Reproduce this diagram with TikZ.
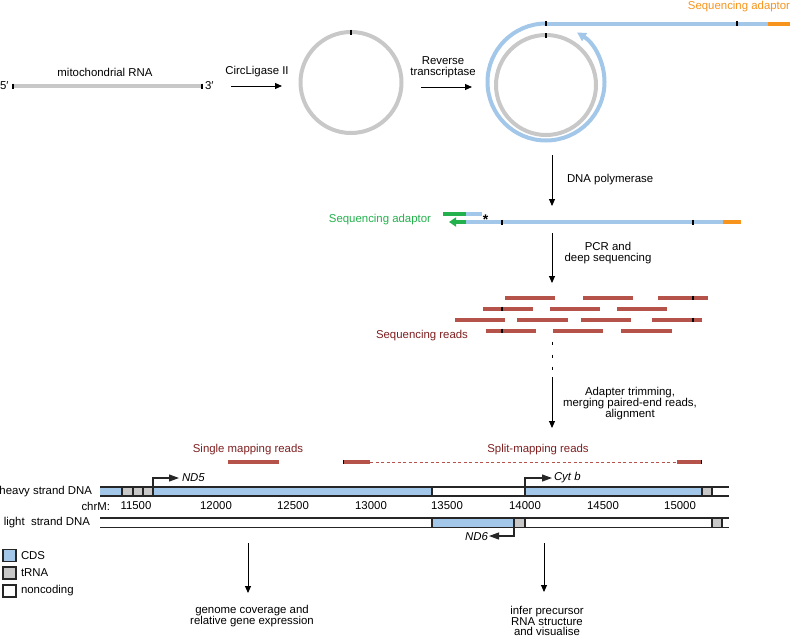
\documentclass[tikz,border=0pt]{standalone}
\usepackage{fontspec}
\setmainfont{Liberation Sans}
\usetikzlibrary{arrows.meta}
\definecolor{rnagray}{HTML}{C8C8C8}
\definecolor{dnablue}{HTML}{A3C7E9}
\definecolor{adorange}{HTML}{F7941D}
\definecolor{adgreen}{HTML}{22B14C}
\definecolor{readred}{HTML}{B5534A}
\definecolor{txtred}{HTML}{7E1F1F}
\begin{document}
\begin{tikzpicture}[x=1pt,y=-1pt,
  every node/.style={inner sep=0pt,outer sep=0pt},
  txt/.style={font=\fontsize{11.4}{11}\selectfont,align=center},
  btxt/.style={font=\fontsize{11.4}{10.2}\selectfont,align=center},
  gtxt/.style={font=\fontsize{11.4}{11}\selectfont\itshape},
  proc/.style={-{Triangle[length=7pt,width=6pt]},line width=0.9pt},
  rna/.style={rnagray,line width=4pt},
  dna/.style={dnablue,line width=4pt},
  orng/.style={adorange,line width=4pt},
  grn/.style={adgreen,line width=4pt},
  rd/.style={readred,line width=4.5pt},
  tick/.style={black,line width=1.1pt},
  gl/.style={black!85,line width=1.1pt},
  garrow/.style={gl,-{Triangle[length=10pt,width=7pt]}},
  legbox/.style={draw=black!85,line width=1.1pt,minimum width=13pt,minimum height=12pt}]
\useasboundingbox (0,0) rectangle (791,637);

% ---------- top row: linear RNA ----------
\coordinate (r5) at (13,86);
\coordinate (r3) at (202,86);
\draw[rna] (r5) -- (r3);
\draw[tick] (13,83.5) -- (13,88.5);
\draw[tick] (202,83.5) -- (202,88.5);
\node[txt,anchor=west] (five) at (0,86) {5′};
\node[txt,anchor=west] (three) at (205,86) {3′};
\node[txt] (mrna) at (105,72) {mitochondrial RNA};

\node[txt] (cl) at (257,72) {CircLigase II};
\coordinate (cla) at (231,86);
\coordinate (clb) at (282,86);
\draw[proc] (cla) -- (clb);

% circle 1
\coordinate (c1) at (351,82.5);
\draw[rna] (c1) circle[radius=50.5];
\draw[tick] (351,29.5) -- (351,34.5);

\node[txt] (rt) at (443,67) {Reverse\\transcriptase};
\coordinate (rta) at (421,87);
\coordinate (rtb) at (472,87);
\draw[proc] (rta) -- (rtb);

% circle 2
\coordinate (c2) at (546,85);
\draw[rna] (c2) circle[radius=50];
\draw[tick] (546,33) -- (546,38);
\coordinate (bt) at (546,23.5);
\coordinate (bo) at (768,23.5);
\coordinate (be) at (790,23.5);
\draw[dna] (bt) -- (bo);
\draw[orng] (bo) -- (be);
\draw[dna,-{Triangle[length=9pt,width=9pt]}] (bt) arc[start angle=-90,end angle=-418,radius=58.5];
\draw[tick] (546,21) -- (546,26);
\draw[tick] (737,21) -- (737,26);
\node[txt,anchor=east,text=adorange] (sa1) at (790,7) {Sequencing adaptor};

% DNA polymerase
\coordinate (dpa) at (552,155);
\coordinate (dpb) at (552,206);
\draw[proc] (dpa) -- (dpb);
\node[txt,anchor=west] (dp) at (567,180) {DNA polymerase};

% middle strand
\coordinate (m0) at (466,222);
\coordinate (m1) at (723,222);
\coordinate (m2) at (741,222);
\coordinate (mg) at (449,222);
\draw[dna] (m0) -- (m1);
\draw[orng] (m1) -- (m2);
\draw[grn,-{Triangle[length=7pt,width=9pt]}] (m0) -- (mg);
\draw[tick] (502,219.5) -- (502,224.5);
\draw[tick] (693,219.5) -- (693,224.5);
\coordinate (u0) at (443,214);
\coordinate (u1) at (466,214);
\coordinate (u2) at (482,214);
\draw[grn] (u0) -- (u1);
\draw[dna] (u1) -- (u2);
\node[anchor=base,font=\fontsize{14}{14}\selectfont\bfseries,text=black] (ast) at (485.5,224) {*};
\node[txt,anchor=east,text=adgreen] (sa2) at (431,220) {Sequencing adaptor};

% PCR
\coordinate (pca) at (552,233);
\coordinate (pcb) at (552,283);
\draw[proc] (pca) -- (pcb);
\node[txt] (pcr) at (608,253) {PCR and\\deep sequencing};

% reads
\foreach \a/\b/\y in {505/555/298,583/633/298,658/708/298,
  483/533/309,550/600/309,617/667/309,
  455/505/320,517/568/320,581/631/320,652/702/320,
  486/536/331,553/603/331,621/672/331}
  \draw[rd] (\a,\y) -- (\b,\y);
\foreach \x/\y in {693/298,502/309,693/320,502/331}
  \draw[tick] (\x,\y-2.3) -- (\x,\y+2.3);
\node[txt,text=txtred] (sr) at (422,336) {Sequencing reads};

% dots
\foreach \y in {343,356,368}
  \draw[black,line width=0.9pt] (552,\y-1.5) -- (552,\y+1.5);

% alignment
\coordinate (ala) at (552,377);
\coordinate (alb) at (552,428);
\draw[proc] (ala) -- (alb);
\node[txt] (al) at (630,404) {Adapter trimming,\\merging paired-end reads,\\alignment};

% mapping reads
\node[txt,text=txtred] (smr) at (248,450) {Single mapping reads};
\node[txt,text=txtred] (spr) at (538,450) {Split-mapping reads};
\draw[rd] (228,462) -- (279,462);
\coordinate (s1) at (370,462);
\coordinate (s2) at (677,462);
\draw[rd] (343,462) -- (s1);
\draw[readred,line width=1pt,dash pattern=on 3pt off 2.5pt] (s1) -- (s2);
\draw[rd] (s2) -- (702,462);
\draw[tick] (343.5,459.7) -- (343.5,464.3);
\draw[tick] (701.5,459.7) -- (701.5,464.3);

% heavy strand
\fill[dnablue] (100,487) rectangle (122,496);
\fill[rnagray] (122,487) rectangle (153,496);
\fill[dnablue] (153,487) rectangle (432,496);
\fill[dnablue] (525,487) rectangle (702,496);
\fill[rnagray] (702,487) rectangle (712,496);
\draw[gl] (100,487) -- (729,487);
\draw[gl] (100,496) -- (729,496);
\foreach \x in {122,133,143,153,432,525,702,712}
  \draw[gl] (\x,487) -- (\x,496);

% light strand
\fill[dnablue] (432,518) rectangle (514,527.5);
\fill[rnagray] (514,518) rectangle (525,527.5);
\fill[rnagray] (712,518) rectangle (722,527.5);
\draw[gl] (100,518) -- (729,518);
\draw[gl] (100,527.5) -- (729,527.5);
\foreach \x in {432,514,525,712,722}
  \draw[gl] (\x,518) -- (\x,527.5);

% gene arrows
\coordinate (nd5s) at (153,487);
\coordinate (nd5e) at (179,478);
\draw[garrow] (nd5s) |- (nd5e);
\node[gtxt,anchor=west] (nd5) at (182,478) {ND5};
\coordinate (cyts) at (525,487);
\coordinate (cyte) at (552,478);
\draw[garrow] (cyts) |- (cyte);
\node[gtxt,anchor=west] (cyt) at (554,478) {Cyt b};
\coordinate (nd6s) at (514,527.5);
\coordinate (nd6e) at (489,536);
\draw[garrow] (nd6s) |- (nd6e);
\node[gtxt,anchor=east] (nd6) at (488,536.5) {ND6};

% strand labels
\node[txt,anchor=east] (hs) at (92,492) {heavy strand DNA};
\node[txt,anchor=east] (ls) at (90,523) {light\ \ strand DNA};
\node[txt,anchor=east] (chr) at (110,506) {chrM:};
\foreach \x/\t in {136/11500,216/12000,293/12500,371/13000,447/13500,525/14000,603/14500,680/15000}
  \node[txt] at (\x,506) {\t};

% legend
\node[legbox,fill=dnablue] (lcds) at (9.5,555.5) {};
\node[legbox,fill=rnagray] (ltrna) at (9.5,573) {};
\node[legbox,fill=white] (lnc) at (9.5,591) {};
\node[txt,anchor=west] at (21,555.5) {CDS};
\node[txt,anchor=west] at (21,573) {tRNA};
\node[txt,anchor=west] at (21,591) {noncoding};

% bottom arrows
\coordinate (gca) at (248,543);
\coordinate (gcb) at (248,593);
\draw[proc] (gca) -- (gcb);
\node[btxt] (gc) at (252,616) {genome coverage and\\relative gene expression};
\coordinate (ipa) at (544,543);
\coordinate (ipb) at (544,592);
\draw[proc] (ipa) -- (ipb);
\node[btxt] (ip) at (547,621) {infer precursor\\RNA structure\\and visualise};
\end{tikzpicture}
\end{document}
